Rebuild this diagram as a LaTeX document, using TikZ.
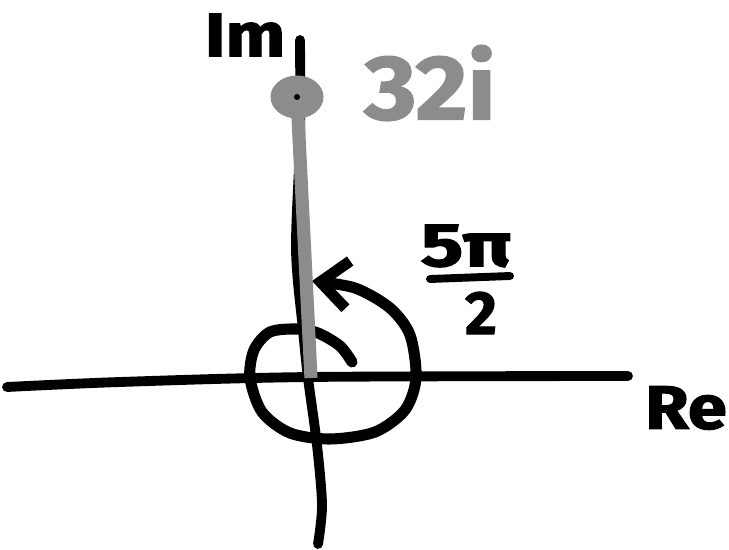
\documentclass[tikz,border=0pt]{standalone}
\usepackage{fontspec}
\setmainfont{Fira Sans}[BoldFeatures={FakeBold=1.6}]
\usepackage{xcolor}
\usetikzlibrary{arrows.meta,shapes.geometric}
\definecolor{Ink}{HTML}{000000}
\definecolor{PenGray}{HTML}{8C8C8C}
\tikzset{
  axis/.style={line width=5.6pt, draw=Ink, line cap=round, line join=round},
  turn/.style={line width=6.3pt, draw=Ink, line cap=round, line join=round, -{Straight Barb[length=5.5mm, width=9.5mm]}},
  ray/.style={line width=7.5pt, draw=PenGray},
  point/.style={ellipse, fill=PenGray, minimum width=1.06cm, minimum height=0.86cm, inner sep=0pt},
  hand/.style={font=\fontsize{35}{35}\selectfont\bfseries, text=Ink, inner sep=0pt},
  grayhand/.style={font=\fontsize{52}{52}\selectfont\bfseries, text=PenGray, inner sep=0pt},
  fracbar/.style={line width=4.5pt, draw=Ink, line cap=round}
}
\begin{document}
\begin{tikzpicture}[x=0.02cm, y=-0.02cm]
    \useasboundingbox (0,0) rectangle (729,550);
    \coordinate (o) at (311,378);

    % axes
    \draw[axis] plot[smooth] coordinates {(7,387) (120,382) (310,377) (628,376)};
    \draw[axis] plot[smooth] coordinates {(300,40) (300,140) (296,250) (303,330) (308,378) (317,445) (322,505) (318,544)};

    % angle 5pi/2
    \draw[turn] plot[smooth] coordinates {(352,362) (340,346) (318,333) (297,329) (270,332) (254,350) (250,378) (262,412) (290,433) (330,439) (375,432) (405,410) (416,378) (410,335) (390,308) (355,288) (312,281)};

    % the point 32i
    \node[point] (z) at (297,97) {};
    \draw[ray] (z.center) -- (o);
    \fill[Ink] (z.center) circle (3);

    \node[hand] (im) at (245,35) {\scalebox{1.15}[1]{Im}};
    \node[hand] (re) at (686,408) {\scalebox{1.15}[1]{Re}};
    \node[grayhand] (val) at (430,83) {\scalebox{1.1}[1]{32i}};
    \node[hand] (num) at (466,246) {\scalebox{1.3}[1]{5π}};
    \node[hand] (den) at (481,313) {2};
    \draw[fracbar] (430,279) -- (510,276);
  \end{tikzpicture}
\end{document}
